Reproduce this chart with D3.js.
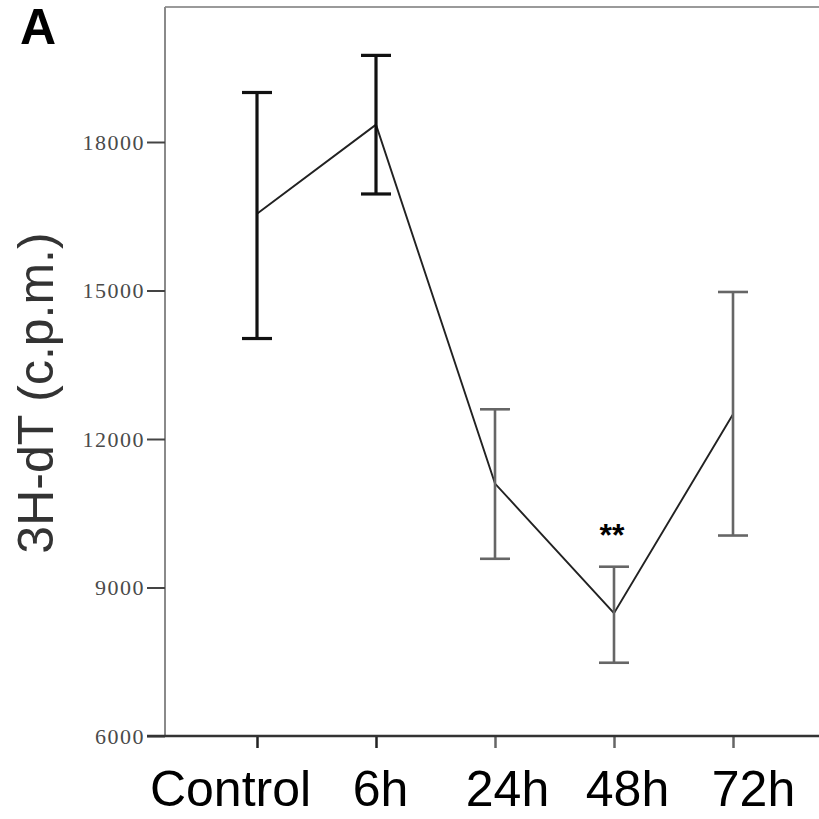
<!DOCTYPE html>
<html>
<head>
<meta charset="utf-8">
<script src="https://cdn.jsdelivr.net/npm/d3@7/dist/d3.min.js"></script>
<style>
  html, body { margin: 0; padding: 0; background: #fff; }
  svg { display: block; }
</style>
</head>
<body>
<script>
// ---- data ----
const categories = ["Control", "6h", "24h", "48h", "72h"];
const means      = [16550, 18350, 11100, 8480, 12500];
const upper      = [19000, 19750, 12600, 9420, 14970];
const lower      = [14030, 16950, 9580, 7480, 10050];
const yTicks     = [6000, 9000, 12000, 15000, 18000];
const significance = ["", "", "", "**", ""];

// ---- layout ----
const W = 819, H = 819;
const axisX = 165, axisBottom = 736, frameTop = 7;
const labelShift = [-27, 4, 12, 13, 20];

const svg = d3.select("body").append("svg")
  .attr("width", W).attr("height", H);

const x = d3.scalePoint().domain(categories).range([257, 733]);
const y = d3.scaleLinear().domain([6000, 18000]).range([axisBottom, 142]);

// frame lines
svg.append("line").attr("x1", axisX).attr("x2", W + 10)
  .attr("y1", frameTop).attr("y2", frameTop)
  .attr("stroke", "#9a9a9a").attr("stroke-width", 2);
svg.append("line").attr("x1", axisX).attr("x2", axisX)
  .attr("y1", frameTop).attr("y2", axisBottom)
  .attr("stroke", "#8a8a8a").attr("stroke-width", 2);

// y axis
const yAxis = d3.axisLeft(y).tickValues(yTicks).tickSize(18).tickPadding(2)
  .tickFormat(d3.format("d"));
const gy = svg.append("g").attr("transform", `translate(${axisX},0)`).call(yAxis);
gy.select(".domain").remove();
gy.selectAll(".tick line").attr("stroke", "#444").attr("stroke-width", 2);
gy.selectAll(".tick text")
  .attr("font-family", "'Liberation Serif', 'DejaVu Serif', serif")
  .attr("font-size", 22).attr("letter-spacing", 1.5)
  .attr("fill", "#4a4a4a");

// x axis
const xAxis = d3.axisBottom(x).tickSize(12).tickPadding(22);
const gx = svg.append("g").attr("transform", `translate(0,${axisBottom})`).call(xAxis);
gx.select(".domain").remove();
gx.append("line").attr("x1", axisX - 18).attr("x2", W + 10)
  .attr("y1", 0).attr("y2", 0).attr("stroke", "#333").attr("stroke-width", 2.5);
gx.selectAll(".tick line").attr("stroke", (d, i) => i < 2 ? "#222" : "#666").attr("stroke-width", 2.5);
gx.selectAll(".tick text")
  .attr("font-family", "'Liberation Sans', Arial, sans-serif")
  .attr("font-size", 50).attr("fill", "#000")
  .attr("dx", (d, i) => labelShift[i])
  .attr("dy", "0.71em");

// line
const line = d3.line().x((d, i) => x(categories[i])).y(d => y(d));
svg.append("path").datum(means).attr("d", line)
  .attr("fill", "none").attr("stroke", "#222").attr("stroke-width", 1.9);

// error bars
const capW = 30;
const eb = svg.append("g").selectAll("g").data(categories).join("g")
  .attr("stroke", (d, i) => i < 2 ? "#111" : "#666")
  .attr("stroke-width", (d, i) => i < 2 ? 3.2 : 2.6);
eb.append("line").attr("x1", d => x(d)).attr("x2", d => x(d))
  .attr("y1", (d, i) => y(upper[i])).attr("y2", (d, i) => y(lower[i]));
eb.append("line").attr("x1", d => x(d) - capW / 2).attr("x2", d => x(d) + capW / 2)
  .attr("y1", (d, i) => y(upper[i])).attr("y2", (d, i) => y(upper[i]));
eb.append("line").attr("x1", d => x(d) - capW / 2).attr("x2", d => x(d) + capW / 2)
  .attr("y1", (d, i) => y(lower[i])).attr("y2", (d, i) => y(lower[i]));

// significance marks
svg.append("g").selectAll("text").data(categories).join("text")
  .attr("x", d => x(d) - 2)
  .attr("y", (d, i) => y(upper[i]) - 21)
  .attr("text-anchor", "middle")
  .attr("font-family", "'Liberation Sans', Arial, sans-serif")
  .attr("font-weight", "bold").attr("font-size", 32)
  .attr("fill", "#000")
  .text((d, i) => significance[i]);

// y axis title
svg.append("text")
  .attr("transform", "translate(53,393) rotate(-90)")
  .attr("text-anchor", "middle")
  .attr("font-family", "'Liberation Sans', Arial, sans-serif")
  .attr("font-size", 50).attr("fill", "#333")
  .text("3H-dT (c.p.m.)");

// panel letter
svg.append("text").attr("x", 20).attr("y", 44)
  .attr("font-family", "'Liberation Sans', Arial, sans-serif")
  .attr("font-weight", "bold").attr("font-size", 50).attr("fill", "#000")
  .text("A");
</script>
</body>
</html>
